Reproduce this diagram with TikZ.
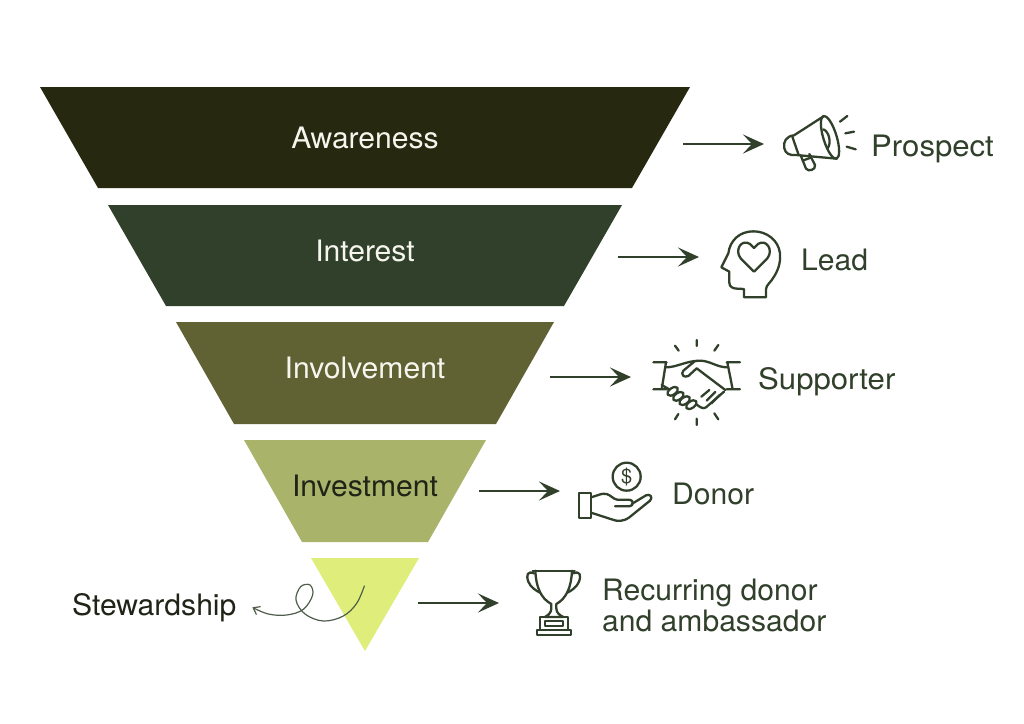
\documentclass[tikz,border=0pt]{standalone}
\usepackage{fontspec}
\setmainfont{TeX Gyre Heros}
\newfontfamily\wideA[FakeStretch=1.02]{TeX Gyre Heros}
\newfontfamily\wideB[FakeStretch=1.055]{TeX Gyre Heros}
\usetikzlibrary{arrows.meta}
\definecolor{cA}{HTML}{26280F}
\definecolor{cB}{HTML}{30402A}
\definecolor{cC}{HTML}{606234}
\definecolor{cD}{HTML}{A9B36A}
\definecolor{cE}{HTML}{DFEE7A}
\definecolor{cT}{HTML}{F6F6EE}
\definecolor{cK}{HTML}{1F2416}
\tikzset{
  stage/.style={inner sep=0pt,anchor=base,font=\wideA\fontsize{29.5}{29.5}\selectfont,text=cT},
  role/.style={inner sep=0pt,anchor=base west,font=\wideA\fontsize{29.5}{29.5}\selectfont,text=cB},
  rolewide/.style={role,font=\wideB\fontsize{29.5}{29.5}\selectfont},
  flow/.style={draw=cB,line width=2.6pt,-{Stealth[length=21pt,width=19pt,inset=9pt]}},
  icon/.style={draw=cB,line width=2.3pt,line cap=round,line join=round},
}
\begin{document}
\begin{tikzpicture}[x=1pt,y=-1pt]
\useasboundingbox (0,0) rectangle (1024,723);
\fill[white] (0,0) rectangle (1024,723);
% funnel
\fill[cA] (40,87)--(690,87)--(632,188)--(98,188)--cycle;
\fill[cB] (108,205)--(622,205)--(564,306)--(166,306)--cycle;
\fill[cC] (176,322)--(554,322)--(496,424)--(234,424)--cycle;
\fill[cD] (244,440)--(486,440)--(428,542)--(302,542)--cycle;
\fill[cE] (311,558)--(419,558)--(365,651)--cycle;
% stage labels
\node[stage] (s1) at (365,148) {Awareness};
\node[stage] (s2) at (365,261) {Interest};
\node[stage] (s3) at (365,378) {Involvement};
\node[stage,text=cK] (s4) at (365,496) {Investment};
% role labels
\node[rolewide] (r1) at (871,156) {Prospect};
\node[role] (r2) at (801,270) {Lead};
\node[rolewide] (r3) at (758,389) {Supporter};
\node[role] (r4) at (672,504) {Donor};
\node[role] (r5a) at (602,600) {Recurring donor};
\node[role] (r5b) at (602,631) {and ambassador};
\node[role,text=cK] (st) at (72,615) {Stewardship};
% arrows
\coordinate (a1s) at (683,144); \coordinate (a1e) at (764,144);
\coordinate (a2s) at (618,257); \coordinate (a2e) at (699,257);
\coordinate (a3s) at (550,377); \coordinate (a3e) at (631,377);
\coordinate (a4s) at (479,491); \coordinate (a4e) at (560,491);
\coordinate (a5s) at (418,603); \coordinate (a5e) at (499,603);
\draw[flow] (a1s)--(a1e);
\draw[flow] (a2s)--(a2e);
\draw[flow] (a3s)--(a3e);
\draw[flow] (a4s)--(a4e);
\draw[flow] (a5s)--(a5e);
% squiggle
\begin{scope}[shift={(60,550)},scale=0.33333]
\coordinate (q1) at (913,108);
\coordinate (q2) at (577,172);
\draw[draw=cB!85!white,line width=1.2pt,line cap=round,-{Straight Barb[length=6pt,width=9pt]}]
  plot[smooth,tension=0.6] coordinates {(q1) (890,160) (850,198) (790,213) (735,192) (708,150) (722,110) (750,105) (758,135) (730,178) (680,195) (625,192) (q2)};
\end{scope}
% megaphone
\begin{scope}[shift={(660,90)},scale=0.33333]
\draw[icon,rotate around={17:(510,142)}] (510,142) ellipse (20 and 67);
\draw[icon] (489,80)--(402,136)
  .. controls (380,138) and (368,155) .. (373,175)
  .. controls (376,190) and (388,197) .. (408,195) -- (530,206);
\draw[icon] (397,140)--(416,195);
\draw[icon] (490,118) .. controls (508,125) and (515,160) .. (502,176);
\draw[icon] (422,196)--(438,236) .. controls (445,246) and (468,240) .. (465,225)--(448,192);
\draw[icon] (428,212)--(452,203);
\draw[icon] (540,95)--(562,78);
\draw[icon] (556,130)--(582,125);
\draw[icon] (560,170)--(587,178);
% head
\draw[icon] (252,622)--(318,622)--(318,598) .. controls (318,585) and (332,578) .. (342,560)
  .. controls (358,535) and (362,510) .. (360,490)
  .. controls (355,450) and (320,424) .. (280,424)
  .. controls (240,424) and (210,450) .. (205,490)
  -- (184,532) -- (208,545) -- (208,578)
  .. controls (208,590) and (218,596) .. (232,596) -- (252,597) -- cycle;
\draw[icon] (282,545) -- (242,505)
  .. controls (222,480) and (245,445) .. (270,462)
  -- (282,474) -- (294,462)
  .. controls (318,445) and (342,480) .. (322,505) -- cycle;
\end{scope}
% handshake and hand
\begin{scope}[shift={(540,330)},scale=0.33333]
\draw[icon] (340,97)--(380,97) (378,97)--(365,178) (340,178)--(380,178);
\draw[icon] (560,97)--(600,97) (562,97)--(578,178) (560,178)--(600,178);
\draw[icon] (470,30)--(470,48) (405,47)--(416,62) (535,45)--(523,62);
\draw[icon] (470,266)--(470,285) (415,252)--(405,268) (523,250)--(535,268);
\draw[icon] (378,112) .. controls (410,112) and (440,92) .. (480,92) .. controls (510,92) and (530,112) .. (562,112);
\draw[icon] (465,93) -- (430,122) .. controls (422,132) and (430,145) .. (445,138) -- (470,115) -- (556,180);
\draw[icon] (365,165)--(388,178);
\foreach \cx/\cy in {398/184,415/199,434/212,454/224}
  \draw[icon,rotate around={35:(\cx,\cy)}] (\cx,\cy) ellipse (18 and 10);
\draw[icon] (468,222) .. controls (480,232) and (490,238) .. (498,232) -- (552,185);
\draw[icon] (484,200)--(508,180) (500,212)--(526,186) (514,220)--(540,194);
% coin
\draw[icon] (260,440) circle (42);
\node[inner sep=0pt,text=cB,font=\fontsize{20}{20}\selectfont] (cash) at (260,440) {\$};
% hand
\draw[icon] (118,490) rectangle (153,563);
\draw[icon] (153,502) .. controls (170,498) and (185,488) .. (200,492)
  .. controls (212,495) and (220,508) .. (232,509) -- (268,509)
  .. controls (282,510) and (282,528) .. (268,529) -- (225,529);
\draw[icon] (275,522) -- (318,496) .. controls (330,490) and (340,502) .. (330,512)
  -- (268,562) .. controls (250,575) and (232,575) .. (215,568) -- (153,548);
\end{scope}
% trophy
\begin{scope}[shift={(410,550)},scale=0.33333]
\draw[icon] (368,62)--(494,62);
\draw[icon] (376,62) .. controls (378,110) and (392,145) .. (424,162) -- (424,175) .. controls (424,188) and (415,195) .. (405,201) -- (460,201) .. controls (448,195) and (439,188) .. (439,175) -- (439,162) .. controls (470,145) and (484,110) .. (486,62);
\draw[icon] (372,70) .. controls (352,62) and (348,75) .. (355,95) .. controls (362,112) and (378,122) .. (390,128);
\draw[icon] (490,70) .. controls (510,62) and (514,75) .. (507,95) .. controls (500,112) and (484,122) .. (472,128);
\draw[icon] (390,201) rectangle (474,240);
\draw[icon] (405,214) rectangle (458,228);
\draw[icon] (380,240) rectangle (484,254);
\end{scope}
\end{tikzpicture}
\end{document}
